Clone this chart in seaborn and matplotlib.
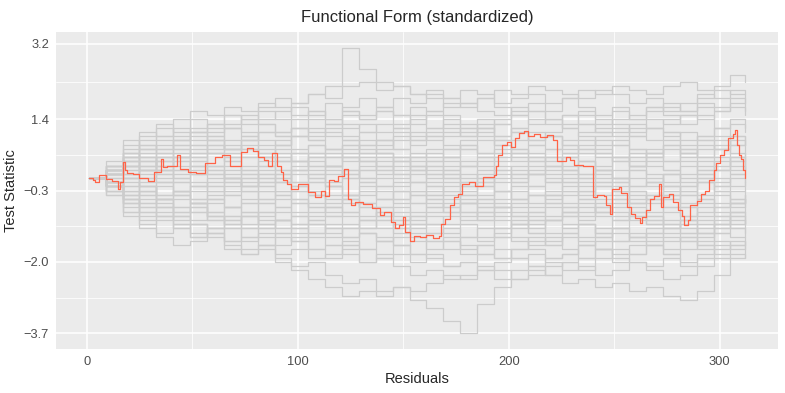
import numpy as np
import pandas as pd
import seaborn as sns
import matplotlib.pyplot as plt

# x positions shared by the simulated (grey) paths
sim_x = [1, 9, 17, 25, 33, 41, 49, 57, 65, 73, 81, 89, 97, 105, 113, 121, 129, 137, 145, 153,
         161, 169, 177, 185, 193, 201, 209, 217, 225, 233, 241, 249, 257, 265, 273, 281, 289, 297, 305, 312]

sim_01 = [0, 0.2, 0.5, 0.7, 0.9, 1.2, 1.0, 1.3, 1.5, 1.4, 1.7, 1.9, 1.8, 2.0, 2.2, 3.1, 2.6, 2.3, 2.2, 2.0,
          1.9, 1.7, 1.8, 1.6, 1.5, 1.7, 1.6, 1.4, 1.5, 1.3, 1.1, 1.2, 1.0, 0.9, 1.1, 0.8, 1.0, 1.2, 1.0, 0.9]
sim_02 = [0, -0.2, -0.5, -0.8, -0.7, -1.1, -1.3, -1.2, -1.5, -1.7, -1.6, -1.9, -2.1, -2.0, -2.3, -2.5, -2.4, -2.7, -2.6, -2.9,
          -3.1, -3.4, -3.7, -3.0, -2.6, -2.4, -2.2, -2.3, -2.0, -1.9, -1.7, -1.8, -1.6, -1.5, -1.7, -1.4, -1.6, -1.3, -1.2, -1.3]
sim_03 = [0, -0.1, -0.3, -0.2, -0.5, -0.7, -0.6, -0.9, -1.0, -0.8, -1.1, -1.3, -1.2, -1.4, -1.6, -1.5, -1.7, -1.9, -1.8, -2.0,
          -1.8, -2.1, -2.0, -2.2, -2.4, -2.2, -2.1, -2.3, -2.5, -2.4, -2.6, -2.5, -2.7, -2.6, -2.8, -2.9, -2.7, -2.3, -1.9, -1.7]
sim_04 = [0, 0.1, 0.3, 0.2, 0.4, 0.6, 0.5, 0.8, 0.7, 0.9, 1.1, 1.0, 1.2, 1.4, 1.3, 1.6, 1.5, 1.7, 1.9, 1.8,
          2.0, 1.9, 2.1, 2.0, 1.8, 1.9, 2.0, 1.8, 1.9, 2.1, 2.0, 2.2, 2.1, 2.0, 2.2, 2.3, 2.1, 2.2, 2.45, 2.3]
sim_05 = [0, 0.3, 0.8, 1.1, 1.0, 1.4, 1.6, 1.5, 1.7, 1.6, 1.8, 1.7, 1.5, 1.6, 1.4, 1.2, 1.3, 1.1, 1.2, 1.0,
          0.9, 1.1, 1.0, 1.2, 1.4, 1.5, 1.3, 1.4, 1.2, 1.0, 0.8, 0.9, 0.7, 0.6, 0.8, 0.5, 0.7, 0.9, 0.8, 0.6]
sim_06 = [0, -0.4, -0.9, -1.2, -1.4, -1.6, -1.5, -1.3, -1.7, -1.8, -1.6, -1.4, -1.5, -1.3, -1.1, -1.2, -1.0, -0.8, -1.0, -0.9,
          -0.7, -0.8, -0.6, -0.5, -0.7, -0.6, -0.4, -0.5, -0.3, -0.5, -0.8, -0.7, -0.9, -1.1, -1.0, -1.2, -1.4, -1.1, -0.9, -1.0]
sim_07 = [0, 0.1, 0.4, 0.3, 0.6, 0.5, 0.8, 0.7, 0.9, 1.0, 0.8, 0.9, 0.7, 0.8, 0.6, 0.4, 0.5, 0.3, 0.4, 0.6,
          0.5, 0.7, 0.8, 0.6, 0.7, 0.9, 1.1, 1.0, 0.8, 0.7, 0.5, 0.4, 0.6, 0.3, 0.2, 0.4, 0.1, 0.3, 0.5, 0.4]
sim_08 = [0, -0.1, 0.1, -0.2, -0.4, -0.3, -0.6, -0.5, -0.7, -0.6, -0.8, -1.0, -0.9, -1.1, -1.3, -1.2, -1.0, -0.8, -0.9, -1.1,
          -1.3, -1.2, -1.4, -1.5, -1.3, -1.1, -1.2, -1.0, -0.9, -1.1, -1.3, -1.5, -1.4, -1.6, -1.8, -1.7, -1.5, -1.3, -1.4, -1.2]
sim_09 = [0, 0.2, 0.1, 0.3, 0.2, 0.0, -0.2, -0.1, 0.1, 0.3, 0.5, 0.4, 0.6, 0.8, 0.7, 0.9, 1.1, 1.3, 1.2, 1.4,
          1.6, 1.5, 1.3, 1.2, 1.0, 1.2, 1.4, 1.3, 1.5, 1.6, 1.4, 1.3, 1.1, 1.2, 1.4, 1.5, 1.7, 1.6, 1.8, 1.6]
sim_10 = [0, -0.2, -0.4, -0.3, -0.1, -0.3, -0.5, -0.4, -0.2, 0.0, -0.2, -0.1, 0.1, 0.0, -0.2, -0.4, -0.3, -0.5, -0.6, -0.4,
          -0.5, -0.3, -0.1, -0.2, 0.0, 0.2, 0.1, 0.3, 0.2, 0.0, -0.2, -0.1, -0.3, -0.5, -0.4, -0.6, -0.4, -0.2, -0.3, -0.1]
sim_11 = [0, 0.2, 0.5, 0.4, 0.7, 0.9, 1.2, 1.1, 1.3, 1.5, 1.4, 1.6, 1.8, 2.0, 1.9, 2.2, 2.3, 2.1, 2.2, 2.0,
          2.1, 1.9, 1.8, 1.9, 1.7, 1.5, 1.6, 1.4, 1.2, 1.3, 1.1, 1.0, 1.2, 1.4, 1.3, 1.5, 1.4, 1.6, 1.7, 1.5]
sim_12 = [0, -0.1, -0.3, -0.6, -0.5, -0.8, -0.7, -1.0, -0.9, -1.2, -1.4, -1.3, -1.5, -1.7, -1.6, -1.8, -2.0, -1.9, -2.1, -2.3,
          -2.2, -2.4, -2.3, -2.1, -2.2, -2.4, -2.3, -2.1, -2.0, -2.2, -1.9, -1.7, -1.8, -1.6, -1.4, -1.5, -1.3, -1.1, -1.2, -1.0]
sim_13 = [0, 0.1, 0.0, 0.2, 0.4, 0.3, 0.1, 0.2, 0.0, -0.2, -0.1, -0.3, -0.2, -0.4, -0.6, -0.5, -0.7, -0.9, -0.8, -0.6,
          -0.7, -0.5, -0.6, -0.8, -0.7, -0.9, -1.1, -1.0, -0.8, -0.9, -0.7, -0.5, -0.6, -0.4, -0.5, -0.3, -0.1, -0.2, 0.0, -0.1]
sim_14 = [0, 0.3, 0.6, 0.5, 0.3, 0.5, 0.7, 0.6, 0.4, 0.5, 0.3, 0.2, 0.4, 0.6, 0.5, 0.7, 0.9, 0.8, 1.0, 0.9,
          1.1, 1.3, 1.2, 1.4, 1.3, 1.1, 0.9, 1.0, 0.8, 0.6, 0.7, 0.5, 0.3, 0.4, 0.2, 0.0, 0.1, -0.1, 0.1, 0.0]
sim_15 = [0, -0.3, -0.5, -0.8, -1.0, -0.9, -1.1, -1.3, -1.2, -1.4, -1.2, -1.0, -1.1, -0.9, -0.7, -0.8, -0.6, -0.7, -0.5, -0.3,
          -0.4, -0.2, -0.3, -0.1, 0.1, 0.0, 0.2, 0.1, -0.1, -0.3, -0.2, -0.4, -0.6, -0.5, -0.7, -0.9, -0.8, -0.6, -0.7, -0.5]
sim_16 = [0, -0.2, -0.4, -0.7, -0.9, -1.2, -1.1, -1.4, -1.6, -1.8, -1.7, -2.0, -2.2, -2.4, -2.6, -2.8, -2.7, -2.8, -2.6, -2.7,
          -2.5, -2.3, -2.4, -2.2, -2.0, -1.9, -2.1, -1.9, -1.8, -1.6, -1.7, -1.5, -1.3, -1.4, -1.2, -1.0, -1.1, -0.9, -0.8, -0.7]
sim_17 = [0, 0.1, 0.3, 0.5, 0.4, 0.2, 0.4, 0.6, 0.8, 0.7, 0.5, 0.6, 0.4, 0.3, 0.1, 0.2, 0.0, -0.2, -0.1, 0.1,
          0.3, 0.2, 0.4, 0.3, 0.5, 0.7, 0.6, 0.4, 0.5, 0.7, 0.9, 0.8, 1.0, 1.2, 1.1, 0.9, 1.0, 1.2, 1.3, 1.1]
sim_18 = [0, -0.1, -0.2, 0.0, -0.1, -0.3, -0.2, 0.0, 0.2, 0.1, 0.3, 0.5, 0.4, 0.2, 0.3, 0.1, -0.1, 0.0, -0.2, -0.1,
          0.1, 0.0, -0.2, -0.4, -0.3, -0.5, -0.4, -0.6, -0.8, -0.7, -0.9, -1.0, -0.8, -1.0, -1.2, -1.1, -1.3, -1.2, -1.0, -1.1]
sim_19 = [0, 0.2, 0.4, 0.3, 0.5, 0.4, 0.6, 0.8, 0.7, 0.9, 1.1, 1.0, 1.2, 1.1, 1.3, 1.5, 1.4, 1.6, 1.5, 1.7,
          1.6, 1.8, 1.7, 1.9, 2.1, 2.0, 2.2, 2.1, 2.0, 1.9, 2.1, 2.0, 1.8, 1.9, 1.7, 1.6, 1.8, 1.7, 1.9, 1.8]
sim_20 = [0, -0.2, -0.1, -0.3, -0.5, -0.4, -0.6, -0.8, -0.7, -0.5, -0.6, -0.4, -0.5, -0.7, -0.9, -0.8, -1.0, -1.2, -1.1, -1.3,
          -1.5, -1.4, -1.6, -1.8, -1.7, -1.9, -1.8, -2.0, -2.2, -2.1, -2.3, -2.2, -2.0, -2.1, -1.9, -2.0, -1.8, -1.6, -1.7, -1.5]
sim_21 = [0, 0.1, 0.2, 0.1, 0.3, 0.5, 0.3, 0.2, 0.0, 0.1, -0.1, 0.0, 0.2, 0.4, 0.3, 0.5, 0.4, 0.6, 0.5, 0.3,
          0.2, 0.0, 0.1, -0.1, -0.3, -0.2, -0.4, -0.3, -0.1, 0.1, 0.0, 0.2, 0.4, 0.5, 0.7, 0.6, 0.8, 0.7, 0.9, 0.8]
sim_22 = [0, -0.1, -0.3, -0.4, -0.2, -0.4, -0.6, -0.5, -0.7, -0.9, -1.1, -1.0, -1.2, -1.0, -0.9, -1.1, -1.3, -1.4, -1.6, -1.5,
          -1.3, -1.5, -1.7, -1.6, -1.4, -1.5, -1.7, -1.9, -1.8, -1.6, -1.5, -1.3, -1.4, -1.2, -1.3, -1.5, -1.7, -1.5, -1.6, -1.4]
sim_23 = [0, 0.2, 0.3, 0.6, 0.8, 0.7, 0.9, 1.0, 1.2, 1.1, 0.9, 0.8, 1.0, 0.9, 0.7, 0.8, 0.6, 0.7, 0.9, 1.1,
          1.0, 0.8, 0.7, 0.5, 0.6, 0.4, 0.5, 0.7, 0.6, 0.8, 1.0, 1.1, 1.3, 1.2, 1.0, 1.1, 0.9, 1.0, 0.8, 0.9]
sim_24 = [0, 0.0, -0.2, -0.1, 0.1, 0.0, 0.2, 0.1, -0.1, -0.3, -0.2, -0.4, -0.3, -0.1, -0.2, 0.0, 0.2, 0.1, 0.3, 0.2,
          0.4, 0.5, 0.3, 0.4, 0.2, 0.3, 0.1, -0.1, 0.0, -0.2, -0.4, -0.3, -0.5, -0.4, -0.2, -0.3, -0.5, -0.7, -0.6, -0.4]
sim_25 = [0, -0.2, -0.6, -0.9, -0.8, -1.0, -0.8, -0.9, -0.7, -0.8, -1.0, -1.2, -1.1, -1.3, -1.2, -1.4, -1.3, -1.5, -1.4, -1.2,
          -1.1, -0.9, -1.0, -0.8, -0.9, -0.7, -0.8, -1.0, -1.2, -1.1, -1.3, -1.2, -1.4, -1.3, -1.5, -1.4, -1.6, -1.8, -1.6, -1.7]
sim_26 = [0, 0.3, 0.5, 0.8, 0.7, 0.9, 1.1, 1.3, 1.2, 1.4, 1.3, 1.1, 1.2, 1.0, 1.2, 1.0, 0.8, 0.9, 0.7, 0.5,
          0.6, 0.4, 0.3, 0.5, 0.4, 0.6, 0.8, 0.7, 0.9, 1.1, 1.2, 1.4, 1.5, 1.7, 1.6, 1.8, 2.0, 1.9, 2.1, 2.0]
sim_27 = [0, -0.1, 0.0, 0.2, 0.1, -0.1, -0.3, -0.2, -0.4, -0.3, -0.5, -0.7, -0.6, -0.8, -0.7, -0.5, -0.4, -0.2, -0.3, -0.1,
          -0.2, -0.4, -0.6, -0.5, -0.7, -0.9, -0.8, -0.6, -0.4, -0.3, -0.1, 0.0, -0.2, -0.1, 0.1, 0.3, 0.2, 0.4, 0.3, 0.2]
sim_28 = [0, -0.3, -0.6, -0.5, -0.7, -0.9, -1.1, -1.3, -1.5, -1.4, -1.6, -1.8, -1.7, -1.9, -1.8, -1.6, -1.7, -1.5, -1.6, -1.8,
          -1.9, -2.1, -2.0, -1.8, -1.9, -1.7, -1.5, -1.6, -1.4, -1.5, -1.7, -1.9, -2.0, -2.2, -2.4, -2.3, -2.1, -1.9, -1.8, -1.9]
sim_29 = [0, 0.1, 0.3, 0.2, 0.0, 0.2, 0.4, 0.3, 0.5, 0.7, 0.6, 0.8, 1.0, 0.9, 1.1, 0.9, 0.7, 0.6, 0.4, 0.5,
          0.3, 0.5, 0.7, 0.9, 0.8, 0.6, 0.4, 0.5, 0.3, 0.1, 0.2, 0.0, -0.2, -0.1, -0.3, -0.2, 0.0, 0.2, 0.1, 0.3]
sim_30 = [0, 0.2, 0.0, -0.2, -0.4, -0.3, -0.5, -0.3, -0.1, -0.2, 0.0, 0.1, -0.1, -0.3, -0.5, -0.4, -0.6, -0.5, -0.3, -0.4,
          -0.2, -0.3, -0.5, -0.7, -0.6, -0.8, -1.0, -0.9, -0.7, -0.8, -0.6, -0.8, -1.0, -0.9, -1.1, -1.3, -1.2, -1.0, -0.8, -0.9]
sim_31 = [0, 0.4, 0.9, 0.7, 1.0, 0.8, 1.1, 0.9, 0.6, 0.8, 0.5, 0.7, 0.4, 0.6, 0.3, 0.5, 0.2, 0.4, 0.1, 0.3,
          0.0, 0.2, -0.1, 0.1, 0.3, 0.1, 0.4, 0.2, 0.5, 0.3, 0.6, 0.4, 0.7, 0.5, 0.8, 0.6, 0.9, 0.7, 1.0, 0.8]
sim_32 = [0, -0.3, -0.8, -0.6, -0.9, -0.7, -1.0, -0.8, -1.1, -0.9, -0.6, -0.8, -0.5, -0.7, -0.4, -0.6, -0.9, -0.7, -1.0, -0.8,
          -0.5, -0.7, -0.4, -0.6, -0.3, -0.5, -0.2, -0.4, -0.7, -0.5, -0.8, -0.6, -0.3, -0.5, -0.2, -0.4, -0.1, -0.3, -0.6, -0.4]
sim_33 = [0, 0.1, 0.6, 0.4, 0.2, 0.4, 0.1, 0.3, 0.0, -0.2, 0.1, -0.1, -0.3, -0.1, 0.2, 0.0, 0.3, 0.5, 0.2, 0.4,
          0.7, 0.5, 0.8, 0.6, 0.9, 0.7, 0.5, 0.3, 0.6, 0.4, 0.1, -0.1, 0.2, 0.0, -0.2, -0.4, -0.1, -0.3, -0.5, -0.3]
sim_34 = [0, -0.2, -0.7, -1.0, -1.3, -1.1, -1.4, -1.2, -0.9, -1.1, -0.8, -1.0, -1.3, -1.1, -1.4, -1.6, -1.3, -1.5, -1.2, -1.4,
          -1.7, -1.5, -1.8, -1.6, -1.9, -1.7, -1.4, -1.6, -1.3, -1.1, -1.4, -1.2, -0.9, -1.1, -0.8, -1.0, -0.7, -0.9, -1.1, -0.9]
sim_35 = [0, 0.3, 0.7, 1.0, 1.3, 1.1, 1.4, 1.2, 1.5, 1.3, 1.6, 1.4, 1.7, 1.5, 1.8, 1.6, 1.4, 1.6, 1.3, 1.5,
          1.2, 1.4, 1.1, 1.3, 1.0, 1.2, 0.9, 1.1, 1.3, 1.5, 1.3, 1.6, 1.4, 1.7, 1.5, 1.3, 1.5, 1.2, 1.4, 1.2]
sim_36 = [0, -0.1, -0.4, -0.2, -0.5, -0.3, -0.1, -0.3, 0.0, -0.2, 0.1, -0.1, 0.2, 0.0, 0.3, 0.1, 0.4, 0.2, 0.5, 0.3,
          0.1, 0.3, 0.0, 0.2, -0.1, 0.1, -0.2, 0.0, -0.3, -0.1, 0.2, 0.0, 0.3, 0.1, -0.1, 0.1, 0.4, 0.2, 0.5, 0.3]
sim_37 = [0, 0.2, 0.4, 0.7, 0.5, 0.8, 0.6, 0.9, 1.2, 1.0, 1.3, 1.1, 1.4, 1.6, 1.4, 1.7, 1.9, 1.7, 1.5, 1.3,
          1.5, 1.2, 1.0, 1.2, 0.9, 1.1, 0.8, 1.0, 0.7, 0.9, 0.6, 0.8, 0.5, 0.7, 0.4, 0.6, 0.3, 0.5, 0.2, 0.4]
sim_38 = [0, -0.2, -0.5, -0.3, -0.6, -0.9, -0.7, -1.0, -1.2, -1.5, -1.3, -1.6, -1.4, -1.7, -1.9, -1.7, -2.0, -1.8, -1.6, -1.8,
          -1.5, -1.7, -1.4, -1.2, -1.4, -1.1, -1.3, -1.0, -0.8, -1.0, -0.7, -0.9, -0.6, -0.8, -0.5, -0.7, -0.9, -0.7, -0.5, -0.6]
sim_39 = [0, 0.1, 0.3, 0.0, 0.2, -0.1, 0.1, -0.2, 0.0, -0.3, -0.5, -0.3, -0.6, -0.4, -0.2, -0.4, -0.1, -0.3, -0.5, -0.3,
          -0.6, -0.8, -0.6, -0.9, -0.7, -0.5, -0.7, -0.4, -0.6, -0.3, -0.5, -0.2, -0.4, -0.6, -0.4, -0.7, -0.5, -0.8, -0.6, -0.7]
sim_40 = [0, 0.2, 0.5, 0.8, 0.6, 0.9, 1.1, 0.9, 0.7, 0.9, 0.6, 0.8, 1.0, 1.2, 1.0, 1.3, 1.1, 0.9, 1.1, 0.8,
          1.0, 0.7, 0.9, 1.1, 1.3, 1.6, 1.8, 1.6, 1.9, 1.7, 1.5, 1.7, 1.4, 1.6, 1.8, 1.6, 1.9, 2.1, 2.0, 1.8]
sim_41 = [0, -0.3, -0.6, -0.4, -0.7, -0.5, -0.8, -0.6, -0.4, -0.6, -0.3, -0.5, -0.2, -0.4, -0.7, -0.9, -1.2, -1.0, -1.3, -1.1,
          -0.9, -1.1, -0.8, -1.0, -1.2, -1.0, -1.3, -1.5, -1.3, -1.6, -1.4, -1.2, -1.5, -1.3, -1.1, -1.3, -1.0, -1.2, -0.9, -1.1]
sim_42 = [0, 0.0, 0.2, 0.5, 0.3, 0.1, 0.3, 0.6, 0.4, 0.2, 0.0, 0.2, -0.1, 0.1, -0.2, -0.4, -0.2, -0.5, -0.3, -0.6,
          -0.4, -0.7, -0.9, -0.7, -1.0, -1.2, -1.0, -1.3, -1.1, -1.4, -1.2, -1.0, -0.8, -1.0, -0.7, -0.9, -0.6, -0.4, -0.6, -0.5]
sim_43 = [0, 0.3, 0.1, 0.4, 0.2, 0.5, 0.3, 0.1, 0.3, 0.0, 0.2, 0.4, 0.2, 0.5, 0.7, 0.5, 0.8, 0.6, 0.4, 0.2,
          0.4, 0.1, 0.3, 0.0, 0.2, -0.1, 0.1, 0.3, 0.1, 0.4, 0.2, 0.5, 0.3, 0.6, 0.9, 0.7, 0.5, 0.7, 0.4, 0.6]
sim_44 = [0, -0.1, -0.5, -0.7, -0.5, -0.8, -0.6, -0.9, -1.1, -0.9, -1.2, -1.0, -0.8, -1.0, -1.2, -1.4, -1.2, -1.0, -1.2, -0.9,
          -1.1, -1.3, -1.1, -1.4, -1.2, -1.4, -1.6, -1.4, -1.7, -1.9, -1.7, -2.0, -1.8, -1.6, -1.8, -2.1, -1.9, -1.7, -1.5, -1.6]
sim_45 = [0, 0.2, 0.6, 0.9, 1.2, 1.0, 0.8, 1.0, 0.7, 0.5, 0.7, 0.4, 0.6, 0.3, 0.5, 0.8, 0.6, 0.9, 0.7, 0.9,
          1.2, 1.0, 1.2, 1.0, 0.8, 0.5, 0.3, 0.5, 0.2, 0.4, 0.2, 0.0, 0.2, -0.1, 0.1, -0.2, 0.0, 0.2, 0.4, 0.2]
sim_46 = [0, -0.2, 0.0, -0.3, -0.1, -0.4, -0.2, -0.5, -0.3, -0.1, -0.3, 0.0, -0.2, 0.1, -0.1, 0.2, 0.0, 0.3, 0.1, -0.1,
          -0.3, -0.1, -0.4, -0.2, -0.5, -0.3, -0.6, -0.4, -0.2, -0.4, -0.1, -0.3, 0.0, -0.2, 0.1, -0.1, 0.2, 0.0, -0.2, 0.0]
sim_47 = [0, 0.1, 0.4, 0.2, 0.5, 0.7, 0.5, 0.3, 0.5, 0.2, 0.4, 0.1, 0.3, 0.5, 0.3, 0.6, 0.4, 0.2, 0.0, 0.2,
          -0.1, 0.1, -0.2, 0.0, -0.3, -0.1, 0.1, -0.1, 0.2, 0.0, 0.3, 0.5, 0.3, 0.6, 0.4, 0.7, 0.5, 0.8, 0.6, 0.5]
sim_48 = [0, -0.4, -0.8, -1.1, -0.9, -1.2, -1.4, -1.2, -1.0, -1.2, -0.9, -0.7, -0.9, -0.6, -0.8, -0.5, -0.7, -0.9, -0.7, -1.0,
          -0.8, -0.6, -0.8, -1.0, -0.8, -1.1, -0.9, -0.7, -0.9, -0.6, -0.8, -0.5, -0.7, -0.9, -1.2, -1.0, -1.3, -1.1, -0.8, -0.9]

# observed (red) path
obs_x = [1, 3, 4, 6, 9, 12, 15, 16, 17, 18, 19, 22, 25, 29, 32, 35, 36, 38, 42, 43,
         44, 48, 52, 56, 61, 64, 68, 73, 76, 79, 81, 84, 86, 88, 90, 92, 93, 95, 97, 100,
         105, 108, 111, 113, 115, 117, 119, 122, 124, 125, 127, 131, 135, 139, 141, 144, 146, 148, 150, 151,
         153, 155, 158, 161, 164, 167, 168, 170, 172, 174, 176, 178, 181, 184, 188, 193, 194, 195, 197, 199,
         201, 203, 205, 207, 209, 212, 215, 218, 221, 223, 227, 229, 231, 235, 239, 240, 242, 245, 246, 248,
         249, 252, 253, 256, 258, 260, 262, 263, 265, 267, 269, 271, 272, 273, 276, 278, 280, 282, 283, 285,
         286, 289, 291, 293, 295, 297, 298, 300, 302, 304, 306, 307, 308, 309, 310, 311, 312]
obs_y = [0.0, -0.05, -0.09, 0.07, -0.03, -0.06, -0.26, -0.1, 0.38, 0.2, 0.12, 0.1, 0.0, -0.06, 0.15, 0.45, 0.27, 0.3, 0.3, 0.55,
         0.22, 0.15, 0.13, 0.36, 0.5, 0.55, 0.3, 0.62, 0.72, 0.65, 0.5, 0.42, 0.3, 0.6, 0.3, 0.15, -0.05, -0.15, -0.25, -0.15,
         -0.32, -0.45, -0.3, -0.42, -0.05, -0.08, 0.05, 0.22, -0.5, -0.65, -0.58, -0.62, -0.72, -0.88, -0.82, -1.05, -1.18, -1.12, -0.93, -1.28,
         -1.5, -1.38, -1.4, -1.36, -1.42, -1.38, -1.1, -0.98, -0.65, -0.45, -0.38, -0.15, -0.1, -0.18, 0.02, 0.08, 0.3, 0.55, 0.78, 0.85,
         0.75, 0.95, 1.08, 1.12, 1.0, 1.05, 0.98, 1.02, 0.92, 0.4, 0.5, 0.42, 0.32, 0.28, 0.28, -0.45, -0.4, -0.42, -0.65, -0.85,
         -0.25, -0.22, -0.35, -0.7, -0.85, -0.95, -1.08, -0.92, -0.75, -0.5, -0.42, -0.15, -0.68, -0.45, -0.38, -0.58, -0.75, -0.9, -1.12, -1.0,
         -0.65, -0.55, -0.38, -0.3, -0.05, 0.2, 0.35, 0.55, 0.68, 0.95, 1.05, 1.15, 0.8, 0.55, 0.45, 0.2, 0.0]

sims = [sim_01, sim_02, sim_03, sim_04, sim_05, sim_06, sim_07, sim_08, sim_09, sim_10,
        sim_11, sim_12, sim_13, sim_14, sim_15, sim_16, sim_17, sim_18, sim_19, sim_20,
        sim_21, sim_22, sim_23, sim_24, sim_25, sim_26, sim_27, sim_28, sim_29, sim_30,
        sim_31, sim_32, sim_33, sim_34, sim_35, sim_36, sim_37, sim_38, sim_39, sim_40,
        sim_41, sim_42, sim_43, sim_44, sim_45, sim_46, sim_47, sim_48]

sim_df = pd.concat([pd.DataFrame({'x': sim_x, 'y': s, 'sim': i}) for i, s in enumerate(sims)],
                   ignore_index=True)
obs_df = pd.DataFrame({'x': obs_x, 'y': obs_y})

# ggplot-like look
sns.set_theme(style='darkgrid', rc={
    'axes.facecolor': '#EBEBEB',
    'grid.color': 'white',
    'axes.edgecolor': '#EBEBEB',
    'xtick.color': '#333333',
    'ytick.color': '#333333',
    'xtick.labelcolor': '#4D4D4D',
    'ytick.labelcolor': '#4D4D4D',
})
plt.rcParams['font.family'] = ['Liberation Sans', 'DejaVu Sans']

fig = plt.figure(figsize=(7.85, 3.93), dpi=100)
ax = fig.add_axes([56 / 785, 1 - 349 / 393, 722 / 785, 317.3 / 393])

sns.lineplot(data=sim_df, x='x', y='y', units='sim', estimator=None, color='#CCCCCC',
             lw=0.9, drawstyle='steps-post', ax=ax, legend=False)
sns.lineplot(data=obs_df, x='x', y='y', color='#FF6347', lw=0.9,
             drawstyle='steps-post', ax=ax, legend=False)

ax.set_xlim(-14.55, 327.55)
ax.set_ylim(-4.074, 3.49)

ax.set_xticks([0, 100, 200, 300])
ax.set_xticks([50, 150, 250], minor=True)
yt = [-3.7, -2.0, -0.3, 1.4, 3.2]
ax.set_yticks(yt, labels=[f'{v:.1f}'.replace('-', '\u2212') for v in yt])
ax.set_yticks([-2.85, -1.15, 0.55, 2.3], minor=True)
ax.grid(which='major', color='white', lw=1.1)
ax.grid(which='minor', color='white', lw=0.55)
ax.tick_params(which='major', length=3, width=1, labelsize=9.3, pad=2)
ax.tick_params(which='minor', length=0)
for s in ax.spines.values():
    s.set_visible(False)

ax.set_title('Functional Form (standardized)', fontsize=12, pad=7)
ax.set_xlabel('Residuals', fontsize=10.5, labelpad=3)
ax.set_ylabel('Test Statistic', fontsize=10.5, labelpad=4)

fig.savefig('out.png', dpi=100)
